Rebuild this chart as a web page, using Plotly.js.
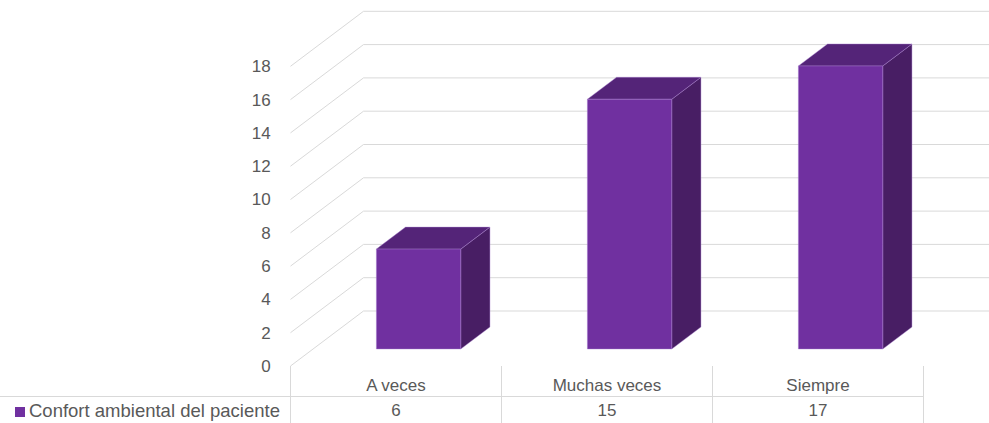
<!DOCTYPE html>
<html>
<head>
<meta charset="utf-8">
<script src="https://cdn.plot.ly/plotly-3.0.1.min.js"></script>
<style>html,body{margin:0;padding:0;background:#fff;}#chart{width:989px;height:423px;}</style>
</head>
<body>
<div id="chart"></div>
<script>
// ---- data ----
const categories = ['A veces', 'Muchas veces', 'Siempre'];
const values = [6, 15, 17];
const seriesName = 'Confort ambiental del paciente';
const tickVals = [0, 2, 4, 6, 8, 10, 12, 14, 16, 18];

// ---- geometry / style ----
const W = 989, H = 423;
const PX_PER_CAT = 211, PX_PER_UNIT = 16.65;
const X0PX = 396, Y0PX = 366;
const xRange = [(0 - X0PX) / PX_PER_CAT, (W - X0PX) / PX_PER_CAT];
const yRange = [(Y0PX - H) / PX_PER_UNIT, Y0PX / PX_PER_UNIT];
const DX = 73 / PX_PER_CAT, DY = 55 / PX_PER_UNIT;   // full depth offset
const F0 = 0.309, F1 = 0.709;                         // bar depth span
const HALFW = 0.2;
const GRID = '#d9d9d9', TXT = '#595959';
const C_FRONT = '#7030A0', C_TOP = '#542478', C_SIDE = '#481E64', C_EDGE = 'rgba(170,130,210,0.7)';
const yTableLine = (Y0PX - 396.5) / PX_PER_UNIT;
const yValRow = (Y0PX - 412) / PX_PER_UNIT;
const xLabelMarker = (20 - X0PX) / PX_PER_CAT;
const xLabelText = (29 - X0PX) / PX_PER_CAT;

const traces = [];

// back wall gridlines + left wall diagonals
const gx = [], gy = [];
tickVals.forEach(t => {
  gx.push(-0.5, -0.5 + DX, xRange[1] + 1, null);
  gy.push(t, t + DY, t + DY, null);
});
traces.push({x: gx, y: gy, mode: 'lines', line: {color: GRID, width: 1}, hoverinfo: 'skip', showlegend: false});

// data table lines
const tx = [], ty = [];
[-0.5, 0.5, 1.5, 2.5].forEach(x => { tx.push(x, x, null); ty.push(0, yRange[0] - 1, null); });
tx.push(xRange[0] - 1, 2.5, null); ty.push(yTableLine, yTableLine, null);
traces.push({x: tx, y: ty, mode: 'lines', line: {color: GRID, width: 1}, hoverinfo: 'skip', showlegend: false});

// 3D bars
categories.forEach((c, i) => {
  const v = values[i];
  const xl = i - HALFW + F0 * DX, xr = i + HALFW + F0 * DX;
  const yb = F0 * DY, yt = v + F0 * DY;
  const ddx = (F1 - F0) * DX, ddy = (F1 - F0) * DY;
  // side
  traces.push({x: [xr, xr + ddx, xr + ddx, xr, xr], y: [yb, yb + ddy, yt + ddy, yt, yb],
    mode: 'lines', fill: 'toself', fillcolor: C_SIDE, line: {color: C_EDGE, width: 0.6}, hoverinfo: 'skip', showlegend: false});
  // top
  traces.push({x: [xl, xr, xr + ddx, xl + ddx, xl], y: [yt, yt, yt + ddy, yt + ddy, yt],
    mode: 'lines', fill: 'toself', fillcolor: C_TOP, line: {color: C_EDGE, width: 0.6}, hoverinfo: 'skip', showlegend: false});
  // front
  traces.push({x: [xl, xr, xr, xl, xl], y: [yb, yb, yt, yt, yb],
    mode: 'lines', fill: 'toself', fillcolor: C_FRONT, line: {color: C_EDGE, width: 0.6}, hoverinfo: 'skip', showlegend: false});
});

// table values
traces.push({x: categories.map((c, i) => i), y: values.map(() => yValRow), text: values.map(String),
  mode: 'text', textposition: 'middle center', textfont: {size: 17, color: TXT}, hoverinfo: 'skip', showlegend: false, cliponaxis: false});
// series key + label
traces.push({x: [xLabelMarker], y: [yValRow], mode: 'markers',
  marker: {symbol: 'square', size: 10, color: C_FRONT}, hoverinfo: 'skip', showlegend: false, cliponaxis: false});
traces.push({x: [xLabelText], y: [yValRow], text: [seriesName], mode: 'text', textposition: 'middle right',
  textfont: {size: 18.5, color: TXT}, hoverinfo: 'skip', showlegend: false, cliponaxis: false});

const layout = {
  width: W, height: H,
  margin: {l: 0, r: 0, t: 0, b: 0},
  paper_bgcolor: '#fff', plot_bgcolor: 'rgba(0,0,0,0)',
  font: {family: 'Liberation Sans, Arial, sans-serif', size: 17, color: TXT},
  showlegend: false,
  xaxis: {range: xRange, tickvals: categories.map((c, i) => i), ticktext: categories,
    anchor: 'free', position: (H - Y0PX) / H, showgrid: false, zeroline: false, showline: false,
    ticks: 'outside', ticklen: 4, tickcolor: 'rgba(0,0,0,0)', tickfont: {size: 17, color: TXT}, fixedrange: true},
  yaxis: {range: yRange, tickvals: tickVals, anchor: 'free', position: 290 / W,
    showgrid: false, zeroline: false, showline: false,
    ticks: 'outside', ticklen: 16, tickcolor: 'rgba(0,0,0,0)', tickfont: {size: 17, color: TXT}, fixedrange: true}
};

Plotly.newPlot('chart', traces, layout, {staticPlot: true, displayModeBar: false});
</script>
</body>
</html>
